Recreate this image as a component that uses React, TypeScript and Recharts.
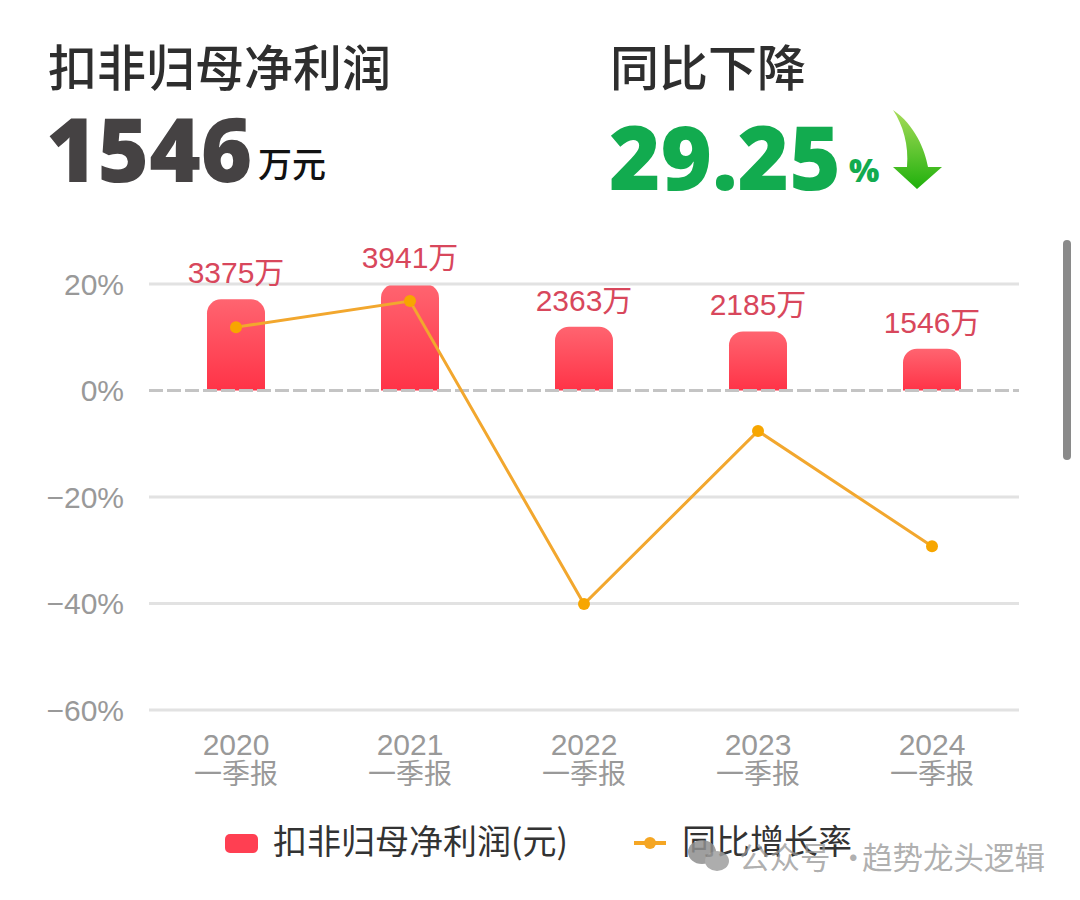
import React from "react";
import {
  Bar,
  ComposedChart,
  LabelList,
  Legend,
  Line,
  ReferenceLine,
  XAxis,
  YAxis,
} from "recharts";

const years = ["2020", "2021", "2022", "2023", "2024"];
const profit = [3375, 3941, 2363, 2185, 1546];
const growth = [11.9, 16.8, -40.1, -7.6, -29.25];
const percentTicks = [20, 0, -20, -40, -60];

const PROFIT_NAME = "扣非归母净利润(元)";
const GROWTH_NAME = "同比增长率";

const rows = years.map((year, i) => ({
  year,
  profit: profit[i],
  growth: growth[i],
}));

const CJK = '"Noto Sans CJK SC", sans-serif';
const LATIN = '"Liberation Sans", "Noto Sans CJK SC", sans-serif';

function YearTick({ x, y, payload }: any) {
  return (
    <g fontFamily={LATIN} fontSize={30} fill="#999999" textAnchor="middle">
      <text x={x} y={y + 37}>{payload.value}</text>
      <text x={x} y={y + 66} fontFamily={CJK} fontSize={28}>一季报</text>
    </g>
  );
}

function LegendRow() {
  return (
    <div style={{ position: "relative", height: 40, fontFamily: CJK, fontSize: 34, color: "#333" }}>
      <div style={{ position: "absolute", left: 225, top: 11, width: 33, height: 19, borderRadius: 5, background: "#ff3f52" }} />
      <div style={{ position: "absolute", left: 273, top: -6, lineHeight: "46px", whiteSpace: "nowrap" }}>{PROFIT_NAME}</div>
      <div style={{ position: "absolute", left: 634, top: 18, width: 32, height: 4, background: "#f5a623" }} />
      <div style={{ position: "absolute", left: 644, top: 14, width: 12, height: 12, borderRadius: 6, background: "#f5a623" }} />
      <div style={{ position: "absolute", left: 682, top: -6, lineHeight: "46px", whiteSpace: "nowrap" }}>{GROWTH_NAME}</div>
    </div>
  );
}

function Headline() {
  const abs = (left: number, top: number, style: React.CSSProperties, text: string) => (
    <div style={{ position: "absolute", left, top, whiteSpace: "nowrap", lineHeight: 1, ...style }}>{text}</div>
  );
  const title = { fontFamily: CJK, fontSize: 49, fontWeight: 500, color: "#2e2e2e" };
  const big = { fontFamily: '"Open Sans", sans-serif', fontSize: 88, fontWeight: 800 };
  return (
    <>
      {abs(48, 40, title, "扣非归母净利润")}
      {abs(610, 40, title, "同比下降")}
      {abs(46, 104, { ...big, color: "#454243" }, "1546")}
      {abs(258, 146, { fontFamily: CJK, fontSize: 34, fontWeight: 500, color: "#111" }, "万元")}
      {abs(609, 112, { ...big, color: "#12ab4f" }, "29.25")}
      {abs(849, 154, { fontFamily: '"Open Sans", sans-serif', fontSize: 32, fontWeight: 800, color: "#12ab4f" }, "%")}
      <svg style={{ position: "absolute", left: 885, top: 105 }} width="66" height="90">
        <defs>
          <linearGradient id="arrowFill" x1="0" y1="0" x2="0" y2="1">
            <stop offset="0%" stopColor="#a8dc5a" />
            <stop offset="100%" stopColor="#1fb00c" />
          </linearGradient>
        </defs>
        <path d="M8 5 C30 20 40 45 43 62 L57 62 L32 84 L8 62 L22 62 C24 40 18 20 8 5 Z" fill="url(#arrowFill)" />
      </svg>
      <div style={{ position: "absolute", left: 1063, top: 240, width: 8, height: 220, borderRadius: 4, background: "#8a8a8a" }} />
    </>
  );
}

function Watermark() {
  const part = { position: "absolute", top: 838, fontFamily: CJK, fontSize: 30.5, lineHeight: "36px", color: "rgba(150,150,150,0.75)", whiteSpace: "nowrap" } as React.CSSProperties;
  return (
    <>
      <svg style={{ position: "absolute", left: 686, top: 838 }} width="46" height="36" opacity={0.85}>
        <ellipse cx="16" cy="14" rx="14" ry="12" fill="#8f8f8f" />
        <ellipse cx="31" cy="23" rx="12" ry="10" fill="#9f9f9f" />
      </svg>
      <div style={{ ...part, left: 739 }}>公众号</div>
      <div style={{ ...part, left: 838 }}>·</div>
      <div style={{ ...part, left: 862 }}>趋势龙头逻辑</div>
    </>
  );
}

export default function App() {
  return (
    <div style={{ position: "absolute", left: 0, top: 0, width: 1080, height: 900, background: "#fff", overflow: "hidden" }}>
      <Headline />
      <ComposedChart
        width={1080}
        height={900}
        data={rows}
        margin={{ top: 284, right: 61, bottom: 60, left: 0 }}
        style={{ position: "absolute", left: 0, top: 0 }}
      >
        <defs>
          <linearGradient id="barFill" x1="0" y1="0" x2="0" y2="1">
            <stop offset="0%" stopColor="#ff6470" />
            <stop offset="100%" stopColor="#ff3347" />
          </linearGradient>
        </defs>
        <XAxis
          dataKey="year"
          height={90}
          interval={0}
          axisLine={false}
          tickLine={false}
          tick={<YearTick />}
        />
        <YAxis
          yAxisId="pct"
          width={149}
          domain={[-60, 20]}
          ticks={percentTicks}
          axisLine={false}
          tickLine={false}
          tickMargin={19}
          tickFormatter={(v: number) => `${v < 0 ? "−" + -v : v}%`}
          tick={{ fontSize: 30, fill: "#999999", fontFamily: LATIN }}
        />
        <YAxis yAxisId="amount" orientation="right" hide domain={[-11823, 3941]} />
        {percentTicks.map((t) => (
          <ReferenceLine
            key={t}
            yAxisId="pct"
            y={t}
            stroke={t === 0 ? "#c4c4c4" : "#e2e2e2"}
            strokeWidth={3}
            strokeDasharray={t === 0 ? "14 4" : undefined}
          />
        ))}
        <Bar
          yAxisId="amount"
          dataKey="profit"
          name={PROFIT_NAME}
          barSize={58}
          fill="url(#barFill)"
          radius={[14, 14, 0, 0]}
          isAnimationActive={false}
        >
          <LabelList
            dataKey="profit"
            position="top"
            offset={16}
            formatter={(v: number) => `${v}万`}
            style={{ fontSize: 30, fill: "#d8475c", fontFamily: LATIN }}
          />
        </Bar>
        <Line
          yAxisId="pct"
          dataKey="growth"
          name={GROWTH_NAME}
          type="linear"
          stroke="#f2a72e"
          strokeWidth={3}
          dot={{ r: 6, fill: "#f7a600", stroke: "#f7a600", strokeWidth: 0 }}
          isAnimationActive={false}
        />
        <Legend
          height={40}
          content={() => <LegendRow />}
          wrapperStyle={{ left: 0, top: 823, width: 1080, bottom: "auto" }}
        />
      </ComposedChart>
      <Watermark />
    </div>
  );
}
